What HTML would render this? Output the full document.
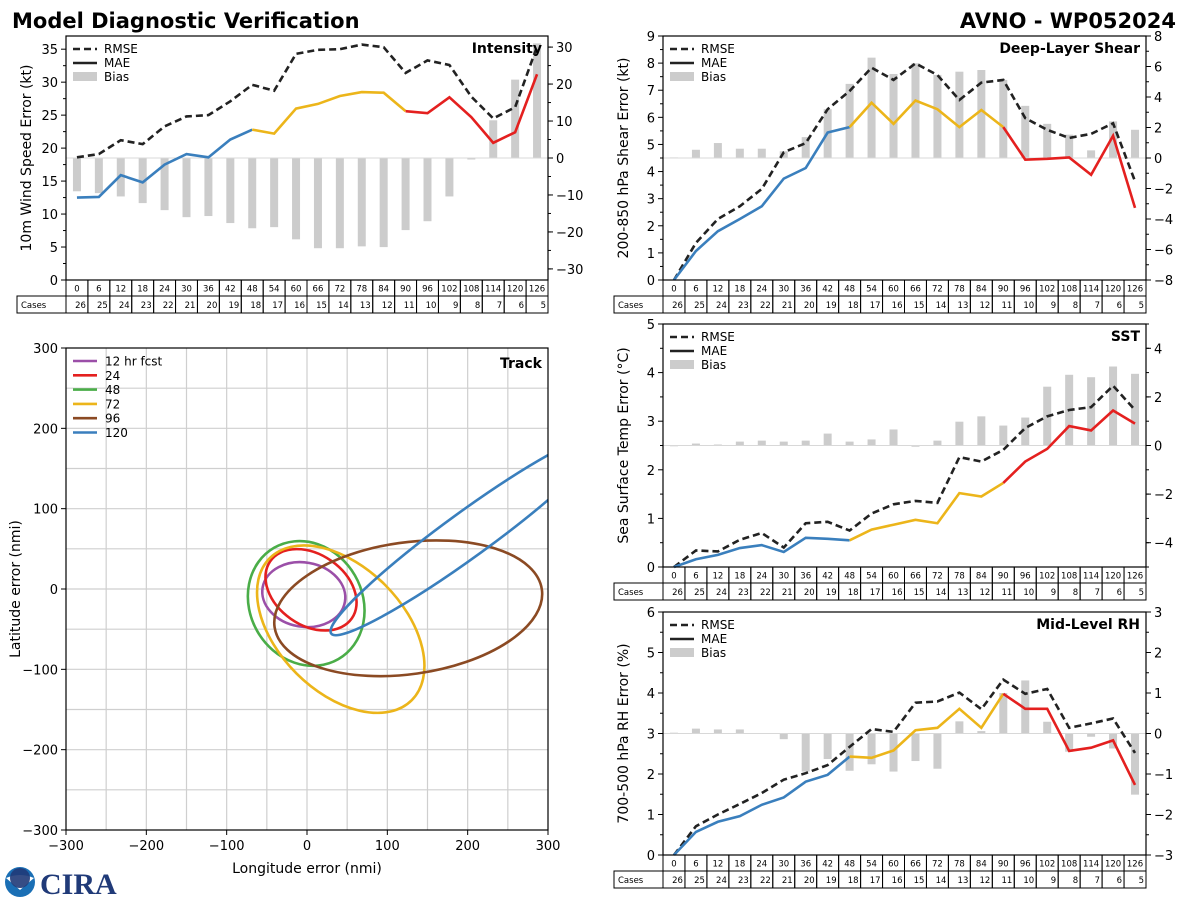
<!DOCTYPE html>
<html><head><meta charset="utf-8">
<style>
body{margin:0;background:#fff;width:1200px;height:900px;overflow:hidden;font-family:"DejaVu Sans","Liberation Sans",sans-serif}
svg{position:absolute;left:0;top:0}
</style></head>
<body>
<svg id="chart" width="1200" height="900" xmlns="http://www.w3.org/2000/svg">
<text x="12" y="28" font-size="21" font-weight="bold">Model Diagnostic Verification</text>
<text x="1176" y="28" font-size="21" font-weight="bold" text-anchor="end">AVNO - WP052024</text>
<g>
<circle cx="20" cy="882" r="15" fill="#1a6fb5"/>
<path d="M6,878 Q20,872 34,878 L20,890 Z" fill="#fff"/>
<circle cx="20" cy="878" r="10" fill="#203a78" opacity="0.9"/>
<text x="40" y="894" font-size="30" font-weight="bold" fill="#203a78" font-family="Liberation Serif,serif">CIRA</text>
</g>
</svg>
<script>
const hours=[0,6,12,18,24,30,36,42,48,54,60,66,72,78,84,90,96,102,108,114,120,126];
const cases=[26,25,24,23,22,21,20,19,18,17,16,15,14,13,12,11,10,9,8,7,6,5];
const intRmse=[18.6,19.1,21.2,20.6,23.3,24.8,25.0,27.1,29.6,28.7,34.3,34.9,35.0,35.7,35.3,31.4,33.3,32.6,27.8,24.5,26.2,35.4];
const intMae=[12.5,12.6,15.9,14.8,17.5,19.1,18.6,21.3,22.8,22.2,26.0,26.7,27.9,28.5,28.4,25.6,25.3,27.7,24.7,20.8,22.4,31.2];
const intBias=[-9,-9.5,-10.4,-12.2,-14.1,-16,-15.7,-17.6,-19,-18.7,-22,-24.4,-24.4,-23.9,-24.1,-19.5,-17.1,-10.4,-0.4,10.2,21.2,31];
const shrRmse=[0,1.37,2.25,2.72,3.36,4.71,5.05,6.30,6.97,7.83,7.38,7.99,7.56,6.64,7.28,7.38,5.97,5.54,5.24,5.39,5.78,3.64];
const shrMae=[0,1.07,1.80,2.25,2.72,3.74,4.13,5.44,5.64,6.54,5.76,6.62,6.30,5.64,6.27,5.64,4.44,4.47,4.52,3.88,5.32,2.66];
const shrBias=[0.04,0.54,0.98,0.61,0.61,0.44,1.37,3.2,4.86,6.58,5.51,6.21,5.45,5.66,5.77,5.12,3.42,2.24,1.53,0.50,2.4,1.85];
const sstRmse=[0,0.34,0.32,0.56,0.70,0.40,0.90,0.93,0.75,1.10,1.29,1.36,1.32,2.26,2.17,2.41,2.86,3.10,3.23,3.29,3.73,3.23];
const sstMae=[0,0.16,0.25,0.39,0.45,0.31,0.60,0.58,0.55,0.77,0.87,0.97,0.90,1.52,1.45,1.73,2.17,2.43,2.90,2.81,3.22,2.95];
const sstBias=[0,0.08,0.04,0.16,0.2,0.16,0.2,0.49,0.16,0.25,0.66,-0.05,0.2,0.98,1.2,0.82,1.15,2.42,2.91,2.81,3.25,2.95];
const rhRmse=[0,0.71,1.00,1.26,1.53,1.86,2.02,2.22,2.67,3.11,3.04,3.76,3.79,4.01,3.60,4.33,3.98,4.10,3.14,3.25,3.37,2.52];
const rhMae=[0,0.57,0.82,0.96,1.24,1.42,1.81,1.98,2.43,2.40,2.58,3.08,3.14,3.61,3.14,3.98,3.61,3.61,2.57,2.65,2.83,1.73];
const rhBias=[0.02,0.12,0.1,0.1,0.01,-0.14,-0.94,-0.63,-0.92,-0.76,-0.94,-0.68,-0.87,0.3,0.06,1.0,1.31,0.29,-0.45,-0.08,-0.37,-1.51];
const trackLabels=["12 hr fcst","24","48","72","96","120"];
const ellCx=[-4,5,-1,42,126,200];
const ellCy=[-7,-1,-18,-50,-24,68];
const ellRx=[52,62,80,125,168,210];
const ellRy=[40,44,70,78,82,28];
const ellAng=[-10,-35,-60,-45,8,36];
const trackColors=["#9b4fa8","#e4201f","#4aad48","#ecb51a","#8b4a23","#3a7fbd"];

const NS="http://www.w3.org/2000/svg";
const svg=document.getElementById('chart');
function mk(tag,attrs,parent){const e=document.createElementNS(NS,tag);for(const k in attrs)e.setAttribute(k,attrs[k]);(parent||svg).appendChild(e);return e;}
const BLUE="#3a7fbd",YEL="#ecb51a",RED="#e4201f";

function panel(o){
  const g=mk('g',{});
  
  
  const n=hours.length, cw=(o.x1-o.x0)/n;
  const X=i=>o.x0+cw*(i+0.5);
  const YL=v=>o.y1-(v/o.lmax)*(o.y1-o.y0);
  const YR=v=>o.y1-(v-o.rmin)/(o.rmax-o.rmin)*(o.y1-o.y0);
  for(let i=0;i<n;i++){
    const y0=YR(0),y=YR(o.bias[i]);
    const b=mk('rect',{x:X(i)-4,y:Math.min(y0,y),width:8,height:Math.max(Math.abs(y-y0),0.8),fill:'#cccccc'},g);
    
    
  }
  const zl=mk('line',{x1:o.x0,x2:o.x1,y1:YR(0),y2:YR(0),stroke:'#d8d8d8','stroke-width':1},g);
  
  
  const rp=mk('polyline',{points:o.rmse.map((v,i)=>X(i)+','+YL(v)).join(' '),fill:'none',stroke:'#222','stroke-width':2.6,'stroke-dasharray':'7,4'},g);
  
  
  [[0,8,BLUE],[8,15,YEL],[15,21,RED]].forEach(s=>{
    const pts=[];for(let i=s[0];i<=s[1];i++)pts.push(X(i)+','+YL(o.mae[i]));
    const p=mk('polyline',{points:pts.join(' '),fill:'none',stroke:s[2],'stroke-width':2.6},g);
    
    
  });
  const fr=mk('rect',{x:o.x0,y:o.y0,width:o.x1-o.x0,height:o.y1-o.y0,fill:'none',stroke:'#000','stroke-width':1.2},g);
  
  
  for(let v=0;v<=o.lmax+1e-9;v+=o.lstep){
    const y=YL(v);
    mk('line',{x1:o.x0-5,x2:o.x0,y1:y,y2:y,stroke:'#000'},g);
    const t=mk('text',{x:o.x0-8,y:y+5,'font-size':13,'text-anchor':'end'},g);t.textContent=v;
    
    
  }
  for(let v=o.lstep/2;v<=o.lmax;v+=o.lstep){const y=YL(v);mk('line',{x1:o.x0-3,x2:o.x0,y1:y,y2:y,stroke:'#000'},g);}
  for(let v=o.rstart;v<=o.rmax+1e-9;v+=o.rstep){
    const y=YR(v);
    mk('line',{x1:o.x1,x2:o.x1+5,y1:y,y2:y,stroke:'#000'},g);
    const t=mk('text',{x:o.x1+8,y:y+5,'font-size':13},g);t.textContent=(v<0?'\u2212'+(-v):v);
    
    
  }
  for(let v=Math.ceil(o.rmin/o.rminor)*o.rminor;v<=o.rmax;v+=o.rminor){const y=YR(v);mk('line',{x1:o.x1,x2:o.x1+3,y1:y,y2:y,stroke:'#000'},g);}
  const yl=mk('text',{x:0,y:0,'font-size':14,'text-anchor':'middle',transform:`translate(${o.ylx},${(o.y0+o.y1)/2}) rotate(-90)`},g);
  yl.textContent=o.ylabel;
  
  
  const tt=mk('text',{x:o.x1-6,y:o.y0+17,'font-size':14,'font-weight':'bold','text-anchor':'end'},g);
  tt.textContent=o.title;
  
  
  const lg=mk('g',{},g);
  
  
  const lx=o.x0+7,ly=o.y0+13;
  mk('line',{x1:lx,x2:lx+24,y1:ly,y2:ly,stroke:'#222','stroke-width':2.6,'stroke-dasharray':'7,4'},lg);
  mk('line',{x1:lx,x2:lx+24,y1:ly+14,y2:ly+14,stroke:'#222','stroke-width':2.6},lg);
  mk('rect',{x:lx,y:ly+23,width:24,height:9,fill:'#cccccc'},lg);
  ['RMSE','MAE','Bias'].forEach((s,k)=>{const t=mk('text',{x:lx+31,y:ly+4+14*k,'font-size':12},lg);t.textContent=s;
    
    });
  const tb=mk('g',{},g);
  
  
  const r0=o.y1,r1=o.y1+16,r2=o.y1+33;
  mk('rect',{x:o.x0-49,y:r1,width:49,height:r2-r1,fill:'none',stroke:'#000'},tb);
  const cl=mk('text',{x:o.x0-45,y:r1+12,'font-size':8.5},tb);cl.textContent='Cases';
  for(let i=0;i<n;i++){
    const cx=o.x0+cw*i;
    mk('rect',{x:cx,y:r0,width:cw,height:16,fill:'none',stroke:'#000'},tb);
    mk('rect',{x:cx,y:r1,width:cw,height:17,fill:'none',stroke:'#000'},tb);
    const h=mk('text',{x:cx+cw/2,y:r0+11.5,'font-size':8.5,'text-anchor':'middle'},tb);h.textContent=hours[i];
    const c=mk('text',{x:cx+cw-2,y:r1+12,'font-size':8.5,'text-anchor':'end'},tb);c.textContent=cases[i];
  }
}
panel({name:'intensity',x0:66,x1:548,y0:36,y1:280,lmax:37,lstep:5,rmin:-33,rmax:33,rstart:-30,rstep:10,rminor:5,rmse:intRmse,mae:intMae,bias:intBias,ylabel:'10m Wind Speed Error (kt)',title:'Intensity',ylx:31});
panel({name:'shear',x0:663,x1:1146,y0:36,y1:280,lmax:9,lstep:1,rmin:-8,rmax:8,rstart:-8,rstep:2,rminor:1,rmse:shrRmse,mae:shrMae,bias:shrBias,ylabel:'200-850 hPa Shear Error (kt)',title:'Deep-Layer Shear',ylx:628});
panel({name:'sst',x0:663,x1:1146,y0:324,y1:567,lmax:5,lstep:1,rmin:-5,rmax:5,rstart:-4,rstep:2,rminor:1,rmse:sstRmse,mae:sstMae,bias:sstBias,ylabel:'Sea Surface Temp Error (\u00b0C)',title:'SST',ylx:628});
panel({name:'rh',x0:663,x1:1146,y0:612,y1:855,lmax:6,lstep:1,rmin:-3,rmax:3,rstart:-3,rstep:1,rminor:0.5,rmse:rhRmse,mae:rhMae,bias:rhBias,ylabel:'700-500 hPa RH Error (%)',title:'Mid-Level RH',ylx:628});

(function(){
  const x0=66,x1=548,y0=348,y1=830;
  const X=v=>x0+(v+300)/600*(x1-x0);
  const Y=v=>y1-(v+300)/600*(y1-y0);
  const g=mk('g',{});
  
  
  const cp=mk('clipPath',{id:'tc'},g);
  mk('rect',{x:x0,y:y0,width:x1-x0,height:y1-y0},cp);
  for(let v=-250;v<300;v+=50){
    const gl=mk('line',{x1:X(v),x2:X(v),y1:y0,y2:y1,stroke:'#cfcfcf','stroke-width':1.2},g);
    
    
    const gh=mk('line',{x1:x0,x2:x1,y1:Y(v),y2:Y(v),stroke:'#cfcfcf','stroke-width':1.2},g);
    
    
  }
  const eg=mk('g',{'clip-path':'url(#tc)'},g);
  const sx=(x1-x0)/600,sy=(y1-y0)/600;
  for(let k=0;k<trackLabels.length;k++){
    const e=mk('ellipse',{cx:0,cy:0,rx:ellRx[k]*sx,ry:ellRy[k]*sy,fill:'none',stroke:trackColors[k],'stroke-width':2.6,
      transform:`translate(${X(ellCx[k])},${Y(ellCy[k])}) rotate(${-ellAng[k]})`},eg);
    
    
  }
  mk('rect',{x:x0,y:y0,width:x1-x0,height:y1-y0,fill:'none',stroke:'#000','stroke-width':1.2},g);
  for(let v=-300;v<=300;v+=100){
    mk('line',{x1:X(v),x2:X(v),y1:y1,y2:y1+5,stroke:'#000'},g);
    mk('line',{x1:x0-5,x2:x0,y1:Y(v),y2:Y(v),stroke:'#000'},g);
    const lab=v<0?'\u2212'+(-v):String(v);
    const tx=mk('text',{x:X(v),y:y1+20,'font-size':13,'text-anchor':'middle'},g);tx.textContent=lab;
    
    
    const ty=mk('text',{x:x0-8,y:Y(v)+5,'font-size':13,'text-anchor':'end'},g);ty.textContent=lab;
    
    
  }
  const xt=mk('text',{x:(x0+x1)/2,y:873,'font-size':14,'text-anchor':'middle'},g);xt.textContent='Longitude error (nmi)';
  
  
  const yt=mk('text',{x:0,y:0,'font-size':14,'text-anchor':'middle',transform:`translate(20,${(y0+y1)/2}) rotate(-90)`},g);yt.textContent='Latitude error (nmi)';
  
  
  const tt=mk('text',{x:x1-6,y:y0+20,'font-size':14,'font-weight':'bold','text-anchor':'end'},g);tt.textContent='Track';
  
  
  for(let k=0;k<trackLabels.length;k++){
    const ly=y0+13+k*14.3;
    mk('line',{x1:x0+7,x2:x0+31,y1:ly,y2:ly,stroke:trackColors[k],'stroke-width':2.6},g);
    const t=mk('text',{x:x0+39,y:ly+4.5,'font-size':12},g);t.textContent=trackLabels[k];
    
    
  }
})();
</script>
</body></html>
